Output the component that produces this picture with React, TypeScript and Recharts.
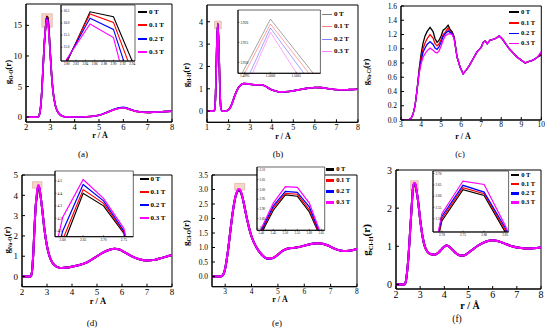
import React from 'react';
import { LineChart, Line, XAxis, YAxis, ReferenceArea } from 'recharts';

const FONT = "'Liberation Serif', 'Times New Roman', serif";
const COLORS = ['#000000', '#ff0000', '#0000ff', '#ff00ff'];
const NAMES = ['0 T', '0.1 T', '0.2 T', '0.3 T'];

// ---------- (a) ----------
const rA = [2.0, 2.45, 2.5, 2.55, 2.6, 2.65, 2.7, 2.75, 2.8, 2.85, 2.9, 2.95, 3.0, 3.05, 3.1, 3.2, 3.3, 3.4, 3.5, 3.6, 3.8, 4.0, 4.5, 5.0, 5.3, 5.6, 5.9, 6.0, 6.2, 6.5, 6.8, 7.0, 7.3, 7.6, 8.0];
const a0 = [0, 0, 0.05, 0.4, 1.6, 4.2, 8.0, 11.8, 14.35, 16.47, 16.26, 13.9, 10.2, 7.0, 4.6, 2.0, 0.9, 0.4, 0.15, 0.07, 0.04, 0.03, 0.06, 0.3, 0.72, 1.2, 1.5, 1.52, 1.35, 0.98, 0.8, 0.78, 0.82, 0.88, 0.95];
const a1 = [0, 0, 0.05, 0.4, 1.6, 4.2, 8.0, 11.8, 14.4, 16.38, 16.03, 13.6, 10.2, 7.0, 4.6, 2.0, 0.9, 0.4, 0.15, 0.07, 0.04, 0.03, 0.06, 0.3, 0.72, 1.2, 1.52, 1.54, 1.36, 0.98, 0.8, 0.78, 0.82, 0.88, 0.95];
const a2 = [0, 0, 0.05, 0.4, 1.6, 4.2, 8.0, 11.8, 14.45, 16.2, 15.74, 13.3, 10.2, 7.0, 4.6, 2.0, 0.9, 0.4, 0.15, 0.07, 0.04, 0.03, 0.06, 0.3, 0.74, 1.25, 1.58, 1.6, 1.4, 1.0, 0.8, 0.78, 0.82, 0.88, 0.95];
const a3 = [0, 0, 0.05, 0.4, 1.6, 4.2, 8.0, 11.8, 14.5, 15.96, 15.4, 13.0, 10.2, 7.0, 4.6, 2.0, 0.9, 0.4, 0.15, 0.07, 0.04, 0.03, 0.06, 0.3, 0.72, 1.2, 1.5, 1.52, 1.35, 0.98, 0.8, 0.78, 0.82, 0.88, 0.95];
const rAi = [2.75, 2.8, 2.85, 2.9, 2.95];
const ai0 = [11.8, 14.35, 16.47, 16.26, 13.97];
const ai1 = [11.8, 14.4, 16.38, 16.03, 13.45];
const ai2 = [11.8, 14.45, 16.2, 15.74, 12.76];
const ai3 = [11.8, 14.5, 15.96, 15.4, 11.67];

// ---------- (b) ----------
const rB = [1.0, 1.3, 1.35, 1.4, 1.45, 1.5, 1.55, 1.6, 1.65, 1.7, 1.8, 1.9, 2.0, 2.1, 2.2, 2.3, 2.4, 2.5, 2.7, 2.9, 3.1, 3.3, 3.5, 3.7, 3.9, 4.1, 4.3, 4.5, 4.8, 5.1, 5.4, 5.7, 6.0, 6.3, 6.6, 6.9, 7.2, 7.5, 7.8, 8.0];
const b0 = [0, 0, 0.05, 0.8, 2.8, 3.921, 2.9, 0.9, 0.1, 0.01, 0, 0.01, 0.06, 0.2, 0.45, 0.72, 0.95, 1.1, 1.23, 1.22, 1.19, 1.18, 1.18, 1.12, 1.0, 0.92, 0.87, 0.86, 0.88, 0.93, 0.98, 1.03, 1.06, 1.05, 1.01, 0.97, 0.95, 0.96, 0.97, 0.98];
const b1 = [0, 0, 0.05, 0.8, 2.8, 3.92, 2.9, 0.9, 0.1, 0.01, 0, 0.01, 0.06, 0.2, 0.45, 0.72, 0.95, 1.1, 1.23, 1.22, 1.19, 1.18, 1.18, 1.12, 1.0, 0.92, 0.87, 0.86, 0.88, 0.93, 0.98, 1.03, 1.06, 1.05, 1.01, 0.97, 0.95, 0.96, 0.97, 0.98];
const b2 = [0, 0, 0.05, 0.8, 2.8, 3.919, 2.9, 0.9, 0.1, 0.01, 0, 0.01, 0.06, 0.2, 0.45, 0.72, 0.95, 1.1, 1.23, 1.22, 1.19, 1.18, 1.18, 1.12, 1.0, 0.92, 0.87, 0.86, 0.88, 0.93, 0.98, 1.03, 1.06, 1.05, 1.01, 0.97, 0.95, 0.96, 0.97, 0.98];
const b3 = [0, 0, 0.05, 0.8, 2.8, 3.918, 2.9, 0.9, 0.1, 0.01, 0, 0.01, 0.06, 0.2, 0.45, 0.72, 0.95, 1.1, 1.23, 1.22, 1.19, 1.18, 1.18, 1.12, 1.0, 0.92, 0.87, 0.86, 0.88, 0.93, 0.98, 1.03, 1.06, 1.05, 1.01, 0.97, 0.95, 0.96, 0.97, 0.98];
const rBi = [1.499, 1.5, 1.501];
const bi0 = [3.8962, 3.9208, 3.9045];
const bi1 = [3.8949, 3.9196, 3.9031];
const bi2 = [3.8902, 3.9186, 3.9011];
const bi3 = [3.8882, 3.9175, 3.8974];

// ---------- (c) ----------
const rC = [3.0, 3.4, 3.5, 3.6, 3.7, 3.8, 3.9, 4.0, 4.1, 4.2, 4.3, 4.45, 4.6, 4.7, 4.8, 4.9, 5.0, 5.1, 5.2, 5.35, 5.45, 5.55, 5.65, 5.8, 5.95, 6.1, 6.25, 6.4, 6.6, 6.8, 7.0, 7.1, 7.2, 7.3, 7.45, 7.6, 7.75, 7.9, 8.05, 8.2, 8.4, 8.6, 8.8, 9.0, 9.2, 9.35, 9.5, 9.65, 9.8, 10.0];
const c0 = [0, 0.005, 0.02, 0.08, 0.2, 0.42, 0.7, 0.92, 1.08, 1.18, 1.24, 1.3, 1.24, 1.14, 1.09, 1.12, 1.18, 1.26, 1.28, 1.33, 1.27, 1.24, 1.17, 0.88, 0.74, 0.65, 0.7, 0.76, 0.86, 0.96, 1.02, 1.09, 1.11, 1.07, 1.12, 1.13, 1.15, 1.18, 1.14, 1.08, 1.0, 0.94, 0.88, 0.84, 0.8, 0.82, 0.83, 0.85, 0.88, 0.91];
const c1 = [0, 0.005, 0.02, 0.08, 0.2, 0.42, 0.68, 0.87, 1.0, 1.08, 1.14, 1.2, 1.15, 1.07, 1.04, 1.07, 1.13, 1.2, 1.23, 1.29, 1.24, 1.22, 1.16, 0.88, 0.74, 0.65, 0.7, 0.76, 0.86, 0.96, 1.02, 1.09, 1.11, 1.07, 1.12, 1.13, 1.15, 1.18, 1.14, 1.08, 1.0, 0.94, 0.88, 0.84, 0.8, 0.82, 0.83, 0.85, 0.88, 0.93];
const c2 = [0, 0.005, 0.02, 0.08, 0.2, 0.42, 0.66, 0.83, 0.95, 1.01, 1.06, 1.1, 1.06, 1.01, 0.99, 1.03, 1.09, 1.17, 1.21, 1.25, 1.23, 1.21, 1.15, 0.88, 0.74, 0.65, 0.7, 0.76, 0.86, 0.96, 1.02, 1.09, 1.11, 1.07, 1.12, 1.13, 1.15, 1.18, 1.14, 1.08, 1.0, 0.94, 0.88, 0.84, 0.8, 0.82, 0.83, 0.85, 0.88, 0.95];
const c3 = [0, 0.005, 0.02, 0.08, 0.2, 0.42, 0.64, 0.79, 0.88, 0.93, 0.97, 1.01, 0.98, 0.95, 0.94, 0.97, 1.04, 1.12, 1.18, 1.21, 1.21, 1.2, 1.14, 0.88, 0.74, 0.65, 0.7, 0.76, 0.86, 0.96, 1.02, 1.09, 1.11, 1.07, 1.12, 1.13, 1.15, 1.18, 1.14, 1.08, 1.0, 0.94, 0.88, 0.84, 0.8, 0.82, 0.83, 0.85, 0.88, 0.96];

// ---------- (d) ----------
const rD = [2.0, 2.35, 2.4, 2.45, 2.5, 2.55, 2.6, 2.65, 2.7, 2.75, 2.8, 2.9, 3.0, 3.1, 3.2, 3.3, 3.45, 3.6, 3.8, 4.0, 4.3, 4.6, 4.9, 5.2, 5.5, 5.7, 5.9, 6.1, 6.4, 6.7, 7.0, 7.3, 7.6, 8.0];
const d0 = [0, 0, 0.25, 1.1, 2.4, 3.5, 3.98, 4.4, 4.3, 3.9, 3.4, 2.3, 1.5, 1.0, 0.72, 0.56, 0.45, 0.42, 0.44, 0.49, 0.57, 0.7, 0.92, 1.15, 1.32, 1.37, 1.33, 1.2, 0.99, 0.85, 0.79, 0.82, 0.92, 1.06];
const d1 = [0, 0, 0.25, 1.1, 2.4, 3.5, 4.03, 4.43, 4.32, 3.9, 3.4, 2.3, 1.5, 1.0, 0.72, 0.56, 0.45, 0.42, 0.44, 0.49, 0.57, 0.7, 0.92, 1.15, 1.32, 1.37, 1.33, 1.2, 0.99, 0.85, 0.79, 0.82, 0.92, 1.06];
const d2 = [0, 0, 0.25, 1.1, 2.4, 3.5, 4.1, 4.47, 4.34, 3.9, 3.4, 2.3, 1.5, 1.0, 0.72, 0.56, 0.45, 0.42, 0.44, 0.49, 0.57, 0.7, 0.92, 1.15, 1.32, 1.37, 1.33, 1.2, 0.99, 0.85, 0.79, 0.82, 0.92, 1.06];
const d3 = [0, 0, 0.25, 1.1, 2.4, 3.5, 4.21, 4.51, 4.36, 3.9, 3.4, 2.3, 1.5, 1.0, 0.72, 0.56, 0.45, 0.42, 0.44, 0.49, 0.57, 0.7, 0.92, 1.15, 1.32, 1.37, 1.33, 1.2, 0.99, 0.85, 0.79, 0.82, 0.92, 1.06];
const rDi = [2.55, 2.6, 2.65, 2.7, 2.75, 2.8];
const di0 = [3.5, 3.98, 4.4, 4.3, 4.08, 3.4];
const di1 = [3.5, 4.03, 4.43, 4.32, 4.09, 3.4];
const di2 = [3.5, 4.1, 4.47, 4.34, 4.1, 3.4];
const di3 = [3.5, 4.21, 4.51, 4.36, 4.12, 3.4];

// ---------- (e) ----------
const rE = [2.5, 2.8, 2.9, 3.0, 3.1, 3.2, 3.3, 3.4, 3.45, 3.5, 3.55, 3.6, 3.65, 3.7, 3.8, 3.9, 4.0, 4.2, 4.4, 4.6, 4.8, 5.0, 5.2, 5.35, 5.5, 5.7, 5.9, 6.1, 6.3, 6.5, 6.7, 6.9, 7.1, 7.3, 7.5, 7.7, 8.0];
const e0 = [0, 0, 0.04, 0.28, 0.85, 1.6, 2.3, 2.775, 2.893, 2.972, 2.965, 2.884, 2.745, 2.55, 2.1, 1.7, 1.38, 0.98, 0.74, 0.62, 0.64, 0.76, 0.9, 0.96, 0.98, 1.0, 1.04, 1.09, 1.13, 1.15, 1.13, 1.07, 0.98, 0.91, 0.88, 0.89, 0.95];
const e1 = [0, 0, 0.04, 0.28, 0.85, 1.6, 2.3, 2.785, 2.905, 2.98, 2.975, 2.895, 2.75, 2.55, 2.1, 1.7, 1.38, 0.98, 0.74, 0.62, 0.64, 0.76, 0.9, 0.96, 0.98, 1.0, 1.04, 1.09, 1.13, 1.15, 1.13, 1.07, 0.98, 0.91, 0.88, 0.89, 0.95];
const e2 = [0, 0, 0.04, 0.28, 0.85, 1.6, 2.3, 2.79, 2.915, 2.99, 2.985, 2.91, 2.755, 2.55, 2.1, 1.7, 1.38, 0.98, 0.74, 0.61, 0.63, 0.75, 0.89, 0.96, 0.98, 1.0, 1.04, 1.09, 1.13, 1.15, 1.13, 1.07, 0.98, 0.91, 0.88, 0.89, 0.95];
const e3 = [0, 0, 0.04, 0.28, 0.85, 1.6, 2.3, 2.8, 2.93, 3.014, 3.01, 2.93, 2.765, 2.55, 2.1, 1.7, 1.38, 0.98, 0.74, 0.62, 0.64, 0.76, 0.9, 0.96, 0.98, 1.0, 1.04, 1.09, 1.13, 1.15, 1.13, 1.07, 0.98, 0.91, 0.88, 0.89, 0.95];

// ---------- (f) ----------
const rF = [2.0, 2.35, 2.4, 2.5, 2.6, 2.65, 2.7, 2.75, 2.8, 2.85, 2.9, 3.0, 3.1, 3.2, 3.3, 3.45, 3.6, 3.75, 3.9, 4.0, 4.1, 4.2, 4.35, 4.5, 4.65, 4.8, 5.0, 5.2, 5.4, 5.6, 5.8, 6.0, 6.2, 6.5, 6.8, 7.1, 7.4, 7.7, 8.0];
const f0 = [0, 0, 0.06, 0.6, 1.55, 2.05, 2.49, 2.629, 2.603, 2.44, 2.25, 1.7, 1.25, 0.98, 0.86, 0.79, 0.78, 0.83, 0.93, 0.99, 1.02, 0.99, 0.9, 0.81, 0.76, 0.76, 0.83, 0.93, 1.02, 1.09, 1.14, 1.16, 1.14, 1.07, 1.0, 0.96, 0.945, 0.95, 0.97];
const f1 = [0, 0, 0.06, 0.6, 1.55, 2.05, 2.5, 2.638, 2.611, 2.45, 2.25, 1.7, 1.25, 0.98, 0.86, 0.79, 0.78, 0.83, 0.93, 0.99, 1.02, 0.99, 0.9, 0.81, 0.76, 0.76, 0.83, 0.93, 1.02, 1.09, 1.14, 1.16, 1.14, 1.07, 1.0, 0.96, 0.945, 0.95, 0.97];
const f2 = [0, 0, 0.06, 0.6, 1.55, 2.05, 2.51, 2.648, 2.618, 2.46, 2.25, 1.7, 1.25, 0.98, 0.86, 0.79, 0.78, 0.83, 0.93, 0.99, 1.02, 0.99, 0.9, 0.81, 0.76, 0.76, 0.83, 0.93, 1.02, 1.09, 1.14, 1.16, 1.14, 1.07, 1.0, 0.96, 0.945, 0.95, 0.97];
const f3 = [0, 0, 0.06, 0.6, 1.55, 2.05, 2.522, 2.667, 2.652, 2.47, 2.25, 1.7, 1.25, 0.98, 0.86, 0.79, 0.78, 0.83, 0.93, 0.99, 1.02, 0.99, 0.9, 0.81, 0.76, 0.76, 0.83, 0.93, 1.02, 1.09, 1.14, 1.16, 1.14, 1.07, 1.0, 0.96, 0.945, 0.95, 0.97];

// ---------- tick labels ----------
const xTicksA = [2, 3, 4, 5, 6, 7, 8];
const yTicksA = [0, 5, 10, 15];
const xTicksB = [1, 2, 3, 4, 5, 6, 7, 8];
const yTicksB = [0, 1, 2, 3, 4];
const xTicksC = [3, 4, 5, 6, 7, 8, 9, 10];
const yTicksC = [0, 0.2, 0.4, 0.6, 0.8, 1.0, 1.2, 1.4, 1.6];
const xTicksD = [2, 3, 4, 5, 6, 7, 8];
const yTicksD = [0, 1, 2, 3, 4, 5];
const xTicksE = [3, 4, 5, 6, 7, 8];
const yTicksE = [0, 0.5, 1.0, 1.5, 2.0, 2.5, 3.0, 3.5];
const xTicksF = [2, 3, 4, 5, 6, 7, 8];
const yTicksF = [0, 1, 2, 3];
const xTicksAi = [2.8, 2.82, 2.84, 2.86, 2.88, 2.9, 2.92, 2.94];
const yTicksAi = [15.0, 15.5, 16.0, 16.5];
const xTicksBi = [1.4995, 1.5, 1.5005];
const yTicksBi = [3.91, 3.915, 3.92];
const xTicksDi = [2.6, 2.65, 2.7, 2.75];
const yTicksDi = [4.1, 4.2, 4.3, 4.4, 4.5];
const xTicksEi = [3.4, 3.45, 3.5, 3.55, 3.6, 3.65];
const yTicksEi = [2.8, 2.85, 2.9, 2.95, 3.0, 3.05, 3.1];
const xTicksFi = [2.7, 2.75, 2.8, 2.85];
const yTicksFi = [2.5, 2.55, 2.6, 2.65, 2.7];

function rows(r: number[], series: number[][]) {
  return r.map((x, i) => {
    const o: any = { r: x };
    series.forEach((s, k) => {
      o['s' + k] = s[i];
    });
    return o;
  });
}

type PlotCfg = {
  box: number[];
  xDomain: number[];
  yDomain: number[];
  xTicks: number[];
  yTicks: number[];
  xDec?: number;
  yDec?: number;
  fs: number;
  data: any[];
  width: number;
  opacity?: number;
  curve: 'monotone' | 'linear';
  rect?: number[];
  inset?: boolean;
  xOff?: number;
};

function Plot(c: PlotCfg) {
  const inset = !!c.inset;
  const yw = inset ? 2 : 34;
  const xh = inset ? 8 : 18;
  const padT = inset ? 2 : 7;
  const padR = inset ? 6 : 9;
  const [x0, y0, x1, y1] = c.box;
  const W = x1 - x0 + yw + padR;
  const H = y1 - y0 + padT + xh;
  const tl = inset ? 1.5 : 3;
  const xOff = c.xOff ?? (inset ? 3 : 5);
  const xMargin = tl + xOff - 0.38 * c.fs;
  const tickStyle = { fontSize: c.fs, fontFamily: FONT, fill: '#000' };
  const yDec = c.yDec ?? 0;
  const xDec = c.xDec ?? 0;
  const yTickInset = (p: any) => (
    <text x={p.x} y={p.y} dy="0.35em" textAnchor="start" fontSize={c.fs} fontFamily={FONT} fill="#000">
      {Number(p.payload.value).toFixed(yDec)}
    </text>
  );
  return (
    <div style={{ position: 'absolute', left: x0 - yw, top: y0 - padT, width: W, height: H }}>
      {inset && (
        <div style={{ position: 'absolute', left: yw, top: padT, width: x1 - x0, height: y1 - y0, background: '#fff' }} />
      )}
      <div style={{ position: 'absolute', left: 0, top: 0 }}>
        <LineChart width={W} height={H} data={c.data} margin={{ top: padT, right: padR, left: 0, bottom: 0 }}>
          <XAxis
            type="number"
            dataKey="r"
            domain={c.xDomain}
            ticks={c.xTicks}
            allowDataOverflow
            height={xh}
            tickSize={-tl}
            tickMargin={xMargin}
            tick={tickStyle}
            tickFormatter={(v: number) => v.toFixed(xDec)}
            axisLine={{ stroke: '#000' }}
            tickLine={{ stroke: '#000', strokeWidth: inset ? 0.5 : 1 }}
            interval={0}
          />
          <YAxis
            type="number"
            domain={c.yDomain}
            ticks={c.yTicks}
            allowDataOverflow
            width={yw}
            tickSize={-tl}
            tickMargin={inset ? -1 : tl + 4}
            tick={inset ? yTickInset : tickStyle}
            tickFormatter={(v: number) => v.toFixed(yDec)}
            axisLine={{ stroke: '#000' }}
            tickLine={{ stroke: '#000', strokeWidth: inset ? 0.5 : 1 }}
            interval={0}
          />
          {c.rect && (
            <ReferenceArea
              x1={c.rect[0]}
              x2={c.rect[1]}
              y1={c.rect[2]}
              y2={c.rect[3]}
              fill="#f3c4b4"
              fillOpacity={0.7}
              stroke="#d8a494"
              strokeWidth={0.6}
            />
          )}
          <ReferenceArea
            x1={c.xDomain[0]}
            x2={c.xDomain[1]}
            y1={c.yDomain[0]}
            y2={c.yDomain[1]}
            fill="none"
            stroke="#000"
            strokeWidth={inset ? 0.6 : 1}
          />
          {COLORS.map((col, k) => (
            <Line
              key={k}
              dataKey={'s' + k}
              stroke={col}
              strokeWidth={c.width}
              strokeOpacity={c.opacity ?? 1}
              dot={false}
              activeDot={false}
              type={c.curve}
              isAnimationActive={false}
            />
          ))}
        </LineChart>
      </div>
    </div>
  );
}

function Legend({ x, ys, len, th, fs, opacity }: { x: number; ys: number[]; len: number; th: number; fs: number; opacity?: number }) {
  return (
    <>
      {ys.map((y, k) => (
        <div key={k} style={{ position: 'absolute', left: x, top: y - fs / 2, height: fs, display: 'flex', alignItems: 'center', whiteSpace: 'nowrap' }}>
          <div style={{ width: len, height: th, background: COLORS[k], opacity: opacity ?? 1, marginRight: 2 }} />
          <span style={{ fontFamily: FONT, fontWeight: 'bold', fontSize: fs, lineHeight: 1 }}>{NAMES[k]}</span>
        </div>
      ))}
    </>
  );
}

function YLabel({ cx, cy, sub, fs }: { cx: number; cy: number; sub: string; fs: number }) {
  return (
    <div
      style={{
        position: 'absolute',
        left: cx,
        top: cy,
        transform: 'translate(-50%, -50%) rotate(-90deg)',
        whiteSpace: 'nowrap',
        fontFamily: FONT,
        fontSize: fs,
        fontWeight: 'bold',
        lineHeight: 1,
      }}
    >
      g<span style={{ fontSize: fs * 0.6, verticalAlign: -fs * 0.25 }}>{sub}</span>(r)
    </div>
  );
}

function Text({ cx, cy, fs, bold, children }: { cx: number; cy: number; fs: number; bold?: boolean; children: React.ReactNode }) {
  return (
    <div
      style={{
        position: 'absolute',
        left: cx,
        top: cy,
        transform: 'translate(-50%, -50%)',
        whiteSpace: 'nowrap',
        fontFamily: FONT,
        fontSize: fs,
        fontWeight: bold ? 'bold' : 'normal',
        lineHeight: 1,
      }}
    >
      {children}
    </div>
  );
}

const dataA = rows(rA, [a0, a1, a2, a3]);
const dataAi = rows(rAi, [ai0, ai1, ai2, ai3]);
const dataB = rows(rB, [b0, b1, b2, b3]);
const dataBi = rows(rBi, [bi0, bi1, bi2, bi3]);
const dataC = rows(rC, [c0, c1, c2, c3]);
const dataD = rows(rD, [d0, d1, d2, d3]);
const dataDi = rows(rDi, [di0, di1, di2, di3]);
const dataE = rows(rE, [e0, e1, e2, e3]);
const dataF = rows(rF, [f0, f1, f2, f3]);

export default function App() {
  return (
    <div style={{ position: 'fixed', left: 0, top: 0, width: 550, height: 328, background: '#fff', overflow: 'hidden' }}>
      {/* (a) */}
      <Plot box={[26, 4, 172, 122]} xDomain={[2, 8]} yDomain={[-0.8, 18.5]} xTicks={xTicksA} yTicks={yTicksA} fs={8.5} data={dataA} width={1.6} curve="monotone" rect={[2.65, 3.08, 14.7, 16.9]} />
      <Plot box={[61, 5, 135, 61]} xDomain={[2.788, 2.946]} yDomain={[14.43, 16.75]} xTicks={xTicksAi} yTicks={yTicksAi} xDec={2} yDec={1} fs={3.4} data={dataAi} width={1.1} curve="linear" inset />
      <Legend x={138} ys={[12, 25, 39, 52]} len={9} th={1.5} fs={7} />
      <YLabel cx={9} cy={72} sub="O-O" fs={9} />
      <Text cx={100} cy={136} fs={8} bold>r / Å</Text>
      <Text cx={83} cy={154} fs={9}>(a)</Text>

      {/* (b) */}
      <Plot box={[206.7, 5, 357.7, 122.3]} xDomain={[1, 8]} yDomain={[-0.5, 4.75]} xTicks={xTicksB} yTicks={yTicksB} fs={8} data={dataB} width={1.6} curve="monotone" rect={[1.35, 1.66, 3.69, 4.03]} />
      <Plot box={[238.3, 10, 320.7, 73.3]} xDomain={[1.49937, 1.50097]} yDomain={[3.90725, 3.9231]} xTicks={xTicksBi} yTicks={yTicksBi} xDec={4} yDec={3} fs={3.4} data={dataBi} width={0.8} opacity={0.45} curve="linear" inset />
      <Legend x={322} ys={[14, 26.7, 39, 51.7]} len={10} th={1} fs={7} opacity={0.5} />
      <YLabel cx={187} cy={75} sub="H-H" fs={9} />
      <Text cx={283} cy={137} fs={8} bold>r / Å</Text>
      <Text cx={278} cy={154} fs={9}>(b)</Text>

      {/* (c) */}
      <Plot box={[400.7, 6, 541, 120]} xDomain={[3, 10]} yDomain={[0, 1.6]} xTicks={xTicksC} yTicks={yTicksC} yDec={1} fs={7.5} data={dataC} width={1.3} curve="linear" />
      <Legend x={509} ys={[12, 23, 33.5, 43.5]} len={10} th={1.5} fs={6.5} />
      <YLabel cx={367} cy={72} sub="Na-Cl" fs={8.5} />
      <Text cx={463} cy={137} fs={8} bold>r / Å</Text>
      <Text cx={460} cy={154} fs={8.5}>(c)</Text>

      {/* (d) */}
      <Plot box={[21.7, 175, 171.7, 286.7]} xDomain={[2, 8]} yDomain={[-0.5, 5]} xTicks={xTicksD} yTicks={yTicksD} fs={9} data={dataD} width={2} curve="monotone" rect={[2.42, 2.8, 4.35, 4.67]} />
      <Plot box={[55, 171, 133.3, 236.7]} xDomain={[2.581, 2.773]} yDomain={[4.054, 4.578]} xTicks={xTicksDi} yTicks={yTicksDi} xDec={2} yDec={1} fs={3.6} data={dataDi} width={1.2} curve="linear" inset />
      <Legend x={140} ys={[179, 192, 205, 218]} len={8.5} th={2} fs={7} />
      <YLabel cx={8} cy={240} sub="Na-O" fs={9} />
      <Text cx={98} cy={301} fs={8.5} bold>r / Å</Text>
      <Text cx={92} cy={323} fs={9}>(d)</Text>

      {/* (e) */}
      <Plot box={[211.7, 175, 356.7, 286.7]} xDomain={[2.5, 8]} yDomain={[-0.35, 3.5]} xTicks={xTicksE} yTicks={yTicksE} yDec={1} fs={7.5} data={dataE} width={2} curve="monotone" rect={[3.36, 3.74, 2.98, 3.21]} xOff={4.5} />
      <Plot box={[257.3, 166.7, 325, 230]} xDomain={[3.382, 3.664]} yDomain={[2.79, 3.115]} xTicks={xTicksEi} yTicks={yTicksEi} xDec={2} yDec={2} fs={3.2} data={dataE} width={1.2} curve="linear" inset />
      <Legend x={325.7} ys={[169.5, 180.5, 191.5, 202.5]} len={8.5} th={3} fs={6.5} />
      <YLabel cx={187} cy={233} sub="Cl-O" fs={9} />
      <Text cx={280} cy={300} fs={8} bold>r / Å</Text>
      <Text cx={277} cy={323} fs={9}>(e)</Text>

      {/* (f) */}
      <Plot box={[396, 170, 541, 289]} xDomain={[2, 8]} yDomain={[-0.12, 3]} xTicks={xTicksF} yTicks={yTicksF} fs={10} data={dataF} width={2} curve="monotone" rect={[2.61, 2.92, 2.46, 2.72]} xOff={6} />
      <Plot box={[432.7, 170.7, 508.3, 231.7]} xDomain={[2.679, 2.858]} yDomain={[2.4407, 2.7116]} xTicks={xTicksFi} yTicks={yTicksFi} xDec={2} yDec={2} fs={3.4} data={dataF} width={1.2} curve="linear" inset />
      <Legend x={510.7} ys={[175, 184, 193.3, 202.7]} len={8.5} th={2.5} fs={6.5} />
      <YLabel cx={368} cy={240} sub="Cl-H" fs={11} />
      <Text cx={470} cy={306} fs={10} bold>r / Å</Text>
      <Text cx={457} cy={319.5} fs={9.5}>(f)</Text>
    </div>
  );
}
